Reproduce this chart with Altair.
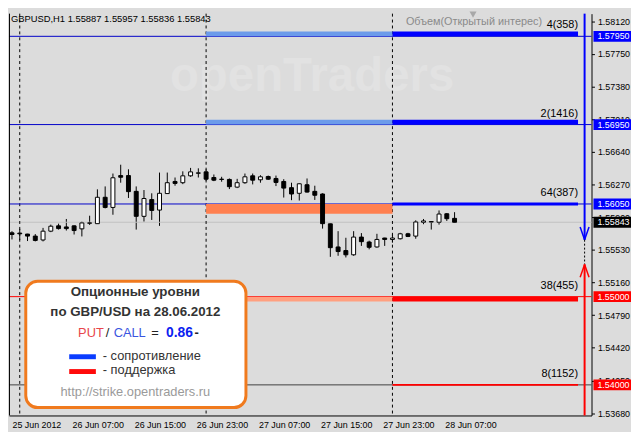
import altair as alt
import pandas as pd

# ---------------- data ----------------
# hourly bars, hour index counted from 26 Jun 2012 00:00 (-1 = 25 Jun 23:00 ... 56 = 28 Jun 08:00)
bar_hours = list(range(-1, 57))
opens = [1.55723, 1.55720, 1.55709, 1.55686, 1.55642, 1.55742, 1.55802, 1.55790, 1.55802, 1.55768,
         1.55832, 1.55827, 1.56126, 1.56011, 1.56372, 1.56372, 1.56193, 1.55910, 1.56100, 1.55981,
         1.56168, 1.56305, 1.56291, 1.56369, 1.56398, 1.56414, 1.56350, 1.56331, 1.56328, 1.56241,
         1.56291, 1.56369, 1.56324, 1.56361, 1.56339, 1.56305, 1.56235, 1.56171, 1.56268, 1.56193,
         1.56163, 1.55825, 1.55563, 1.55522, 1.55474, 1.55675, 1.55619, 1.55563, 1.55664, 1.55648,
         1.55656, 1.55712, 1.55686, 1.55843, 1.55850, 1.55843, 1.55939, 1.55887]
highs = [1.55742, 1.55768, 1.55712, 1.55709, 1.55779, 1.55816, 1.55827, 1.55880, 1.55807, 1.55850,
         1.55917, 1.56216, 1.56249, 1.56395, 1.56495, 1.56443, 1.56249, 1.56208, 1.56171, 1.56406,
         1.56406, 1.56350, 1.56420, 1.56459, 1.56454, 1.56443, 1.56384, 1.56358, 1.56339, 1.56335,
         1.56395, 1.56395, 1.56376, 1.56372, 1.56372, 1.56331, 1.56291, 1.56283, 1.56339, 1.56257,
         1.56171, 1.55827, 1.55742, 1.55667, 1.55742, 1.55720, 1.55634, 1.55712, 1.55667, 1.55704,
         1.55723, 1.55723, 1.55865, 1.55880, 1.55854, 1.55977, 1.55947, 1.55957]
lows = [1.55648, 1.55642, 1.55630, 1.55626, 1.55626, 1.55731, 1.55760, 1.55749, 1.55704, 1.55682,
        1.55813, 1.55824, 1.56000, 1.55928, 1.56291, 1.56118, 1.55760, 1.55850, 1.55869, 1.55802,
        1.56165, 1.56257, 1.56275, 1.56358, 1.56350, 1.56313, 1.56309, 1.56302, 1.56219, 1.56230,
        1.56279, 1.56272, 1.56291, 1.56324, 1.56253, 1.56123, 1.56093, 1.56089, 1.56179, 1.56096,
        1.55771, 1.55451, 1.55463, 1.55444, 1.55463, 1.55575, 1.55536, 1.55555, 1.55575, 1.55611,
        1.55648, 1.55675, 1.55656, 1.55821, 1.55760, 1.55816, 1.55858, 1.55836]
closes = [1.55704, 1.55712, 1.55686, 1.55637, 1.55742, 1.55798, 1.55771, 1.55771, 1.55749, 1.55835,
          1.55835, 1.56126, 1.56011, 1.56347, 1.56353, 1.56190, 1.55910, 1.56112, 1.55977, 1.56171,
          1.56291, 1.56283, 1.56369, 1.56414, 1.56403, 1.56331, 1.56320, 1.56328, 1.56246, 1.56291,
          1.56358, 1.56320, 1.56358, 1.56331, 1.56294, 1.56230, 1.56163, 1.56279, 1.56185, 1.56149,
          1.55827, 1.55555, 1.55511, 1.55474, 1.55675, 1.55623, 1.55559, 1.55648, 1.55648, 1.55664,
          1.55712, 1.55682, 1.55846, 1.55858, 1.55846, 1.55936, 1.55883, 1.55843]

last_price = 1.55843
day_separators = [0, 24, 48]

resist_prices = [1.57950, 1.56950]
resist_labels = ["4(358)", "2(1416)"]
mid_price = 1.56050
mid_label = "64(387)"
support_prices = [1.55000, 1.54000]
support_labels = ["38(455)", "8(1152)"]

y_ticks = [1.53680, 1.54050, 1.54420, 1.54790, 1.55160, 1.55530, 1.55900,
           1.56270, 1.56640, 1.57010, 1.57380, 1.57750, 1.58120]
x_tick_hours = [-0.75, 7, 15, 23, 31, 39, 47, 55]
x_tick_labels = ["25 Jun 2012", "26 Jun 07:00", "26 Jun 15:00", "26 Jun 23:00",
                 "27 Jun 07:00", "27 Jun 15:00", "27 Jun 23:00", "28 Jun 07:00"]

title_text = "GBPUSD,H1  1.55887 1.55957 1.55836 1.55843"
volume_text = "Объем(Открытый интерес)"
box_title1 = "Опционные уровни"
box_title2 = "по GBP/USD на 28.06.2012"
put_call_ratio = "0.86"
legend_res = "- сопротивление"
legend_sup = "- поддержка"
url_text = "http://strike.opentraders.ru"

# ---------------- layout ----------------
W, H = 590, 407
XDOM = [-0.75, 73]
YDOM = [1.53653, 1.58207]
H_START, H_MID, H_END = 24, 48, 71.9
FONT = "Liberation Sans"

xs = alt.Scale(domain=XDOM, nice=False, zero=False)
ys = alt.Scale(domain=YDOM, nice=False, zero=False)

candles = pd.DataFrame({"h": bar_hours, "o": opens, "hi": highs, "lo": lows, "c": closes})
candles["dir"] = ["up" if c >= o else "down" for o, c in zip(opens, closes)]

label_expr = " : ".join(
    f"datum.value == {v} ? '{t}'" for v, t in zip(x_tick_hours, x_tick_labels)) + " : ''"

x_axis = alt.Axis(
    values=x_tick_hours, labelExpr=label_expr, labelAlign="left", labelOffset=-2,
    ticks=False, labelPadding=5, domainColor="black", labelColor="black",
    labelFont=FONT, labelFontSize=9, grid=False, title=None, labelOverlap=False)
y_axis = alt.Axis(
    orient="right", values=y_ticks, format=".5f", tickSize=3, tickColor="black",
    domainColor="black", labelColor="black", labelFont=FONT, labelFontSize=9,
    labelPadding=3, grid=False, title=None, labelOverlap=False)

one = pd.DataFrame({"a": [0]})


def X(field="h"):
    return alt.X(field, type="quantitative", scale=xs, axis=x_axis, title=None)


def Y(field="p"):
    return alt.Y(field, type="quantitative", scale=ys, axis=y_axis, title=None)


wicks = alt.Chart(candles).mark_rule(color="black", strokeWidth=1, clip=True).encode(
    x=X(), y=Y("lo"), y2="hi:Q")

bodies = alt.Chart(candles).mark_bar(size=4, stroke="black", strokeWidth=1, clip=True).encode(
    x=X(), y=Y("o"), y2="c:Q",
    fill=alt.Fill("dir:N", scale=alt.Scale(domain=["up", "down"], range=["white", "black"]), legend=None),
)

seps = alt.Chart(pd.DataFrame({"h": day_separators})).mark_rule(
    color="black", strokeDash=[3, 3], strokeWidth=1).encode(x=X())

thin_blue = alt.Chart(pd.DataFrame({"p": resist_prices + [mid_price]})).mark_rule(
    color="#0000C8", strokeWidth=1).encode(y=Y())
thin_red = alt.Chart(pd.DataFrame({"p": [support_prices[0]]})).mark_rule(
    color="#FF0000", strokeWidth=1).encode(y=Y())
thin_dark = alt.Chart(pd.DataFrame({"p": [support_prices[1]]})).mark_rule(
    color="#404040", strokeWidth=1).encode(y=Y())
price_line = alt.Chart(pd.DataFrame({"p": [last_price]})).mark_rule(
    color="#C0C0C0", strokeWidth=1).encode(y=Y())


def band(prices, h0, h1, color, width, offset):
    d = pd.DataFrame({"p": prices, "h0": [h0] * len(prices), "h1": [h1] * len(prices)})
    return alt.Chart(d).mark_rule(color=color, strokeWidth=width, yOffset=offset).encode(
        x=X("h0"), x2="h1:Q", y=Y())


bands = [
    band(resist_prices, H_START, H_MID, "#6C9BEA", 5, -2.5),
    band(resist_prices, H_MID, H_END, "#0000FF", 5, -2.5),
    band([mid_price], H_START, H_MID, "#FF8050", 10, 5),
    band([mid_price], H_MID, H_END, "#0000FF", 3, 0),
    band([support_prices[0]], H_START, H_MID, "#FFA080", 5, 2.5),
    band([support_prices[0]], H_MID, H_END, "#FF0000", 5, 2.5),
    band([support_prices[1]], H_MID, H_END, "#FF0000", 2, 0),
]

lvl = pd.DataFrame({"p": resist_prices + [mid_price] + support_prices,
                    "t": resist_labels + [mid_label] + support_labels,
                    "h": [H_END] * 5})
level_text = alt.Chart(lvl).mark_text(
    align="right", baseline="bottom", dy=-6, font=FONT, fontSize=11, color="black").encode(
    x=X(), y=Y(), text="t:N")

hl = pd.DataFrame({
    "p": resist_prices + [mid_price, last_price] + support_prices,
    "k": ["b", "b", "b", "k", "r", "r"],
})
hl["t"] = [f"{v:.5f}" for v in hl["p"]]
box_path = "M -1 -0.29 L 1 -0.29 L 1 0.29 L -1 0.29 Z"
hl_box = alt.Chart(hl).mark_point(shape=box_path, size=1444, filled=True, opacity=1).encode(
    x=alt.value(W + 21), y=Y(),
    color=alt.Color("k:N", scale=alt.Scale(domain=["b", "k", "r"], range=["#0000FF", "#000000", "#FF0000"]),
                    legend=None))
hl_text = alt.Chart(hl).mark_text(align="left", baseline="middle", font=FONT, fontSize=9, color="white").encode(
    x=alt.value(W + 6), y=Y(), text="t:N")

watermark = alt.Chart(one).mark_text(
    text="openTraders", font=FONT, fontSize=48, fontWeight="bold", color="#E2E2E2").encode(
    x=alt.value(307), y=alt.value(64))
title = alt.Chart(one).mark_text(
    text=title_text, align="left", baseline="top", font=FONT, fontSize=9.5, color="black").encode(
    x=alt.value(2), y=alt.value(0))
vol = alt.Chart(one).mark_text(
    text=volume_text, align="left", baseline="middle", font=FONT, fontSize=11, color="#8A8A8A").encode(
    x=alt.value(402), y=alt.value(8))
vol_marker = alt.Chart(one).mark_point(
    shape="triangle-down", filled=True, size=50, color="#A8A8A8", opacity=1).encode(
    x=alt.value(470), y=alt.value(1))

blue_arrow = [
    alt.Chart(one).mark_rule(color="#0000FF", strokeWidth=2).encode(
        x=alt.value(583), y=alt.value(0), y2=alt.value(229)),
    alt.Chart(one).mark_rule(color="#0000FF", strokeWidth=1.5).encode(
        x=alt.value(578.5), x2=alt.value(583), y=alt.value(216), y2=alt.value(229)),
    alt.Chart(one).mark_rule(color="#0000FF", strokeWidth=1.5).encode(
        x=alt.value(587.5), x2=alt.value(583), y=alt.value(216), y2=alt.value(229)),
]
dotted = alt.Chart(one).mark_rule(color="black", strokeWidth=1, strokeDash=[2, 2]).encode(
    x=alt.value(583), y=alt.value(229), y2=alt.value(254))
red_arrow = [
    alt.Chart(one).mark_rule(color="#FF0000", strokeWidth=2).encode(
        x=alt.value(583), y=alt.value(254), y2=alt.value(H)),
    alt.Chart(one).mark_rule(color="#FF0000", strokeWidth=1.5).encode(
        x=alt.value(578.5), x2=alt.value(583), y=alt.value(267), y2=alt.value(254)),
    alt.Chart(one).mark_rule(color="#FF0000", strokeWidth=1.5).encode(
        x=alt.value(587.5), x2=alt.value(583), y=alt.value(267), y2=alt.value(254)),
]
left_border = alt.Chart(one).mark_rule(color="black", strokeWidth=1).encode(
    x=alt.value(0.5), y=alt.value(0), y2=alt.value(H))

info_box = alt.Chart(one).mark_rect(
    fill="white", stroke="#F07A1E", strokeWidth=3, cornerRadius=12).encode(
    x=alt.value(17), x2=alt.value(240), y=alt.value(271), y2=alt.value(399))


def txt(s, x, y, color="#333333", size=13, weight="normal", align="center"):
    return alt.Chart(one).mark_text(
        text=s, font=FONT, fontSize=size, fontWeight=weight, color=color,
        align=align, baseline="middle").encode(x=alt.value(x), y=alt.value(y))


info_texts = [
    txt(box_title1, 128, 282, size=13.5, weight="bold"),
    txt(box_title2, 128, 302, size=13.5, weight="bold"),
    txt("PUT", 70, 324, color="#E8464B", align="left"),
    txt("/", 98, 324, color="#222222", align="left"),
    txt("CALL", 106, 324, color="#3A55E0", align="left"),
    txt("=", 144, 324, color="#222222", align="left"),
    txt(put_call_ratio, 159, 324, color="#0A20F0", size=14, weight="bold", align="left"),
    txt("-", 188, 324, color="#222222", weight="bold", align="left"),
    txt(legend_res, 95, 347, align="left"),
    txt(legend_sup, 95, 361, align="left"),
    txt(url_text, 128, 383, color="#9A9A9A"),
]
leg_blue = alt.Chart(one).mark_rect(fill="#0A3CFF").encode(
    x=alt.value(61), x2=alt.value(88), y=alt.value(345), y2=alt.value(350))
leg_red = alt.Chart(one).mark_rect(fill="#FF0A0A").encode(
    x=alt.value(61), x2=alt.value(88), y=alt.value(360), y2=alt.value(365))

layers = ([wicks, watermark, price_line, seps, thin_blue, thin_red, thin_dark] + bands +
          [bodies, level_text, title, vol, vol_marker] + blue_arrow + [dotted] + red_arrow +
          [left_border, info_box] + info_texts + [leg_blue, leg_red, hl_box, hl_text])

chart = alt.layer(*layers).properties(
    width=W, height=H, padding=0, background="#DCDCDC",
).configure_view(stroke=None)

chart.save("out.html", embed_options={"renderer": "svg", "actions": False})
